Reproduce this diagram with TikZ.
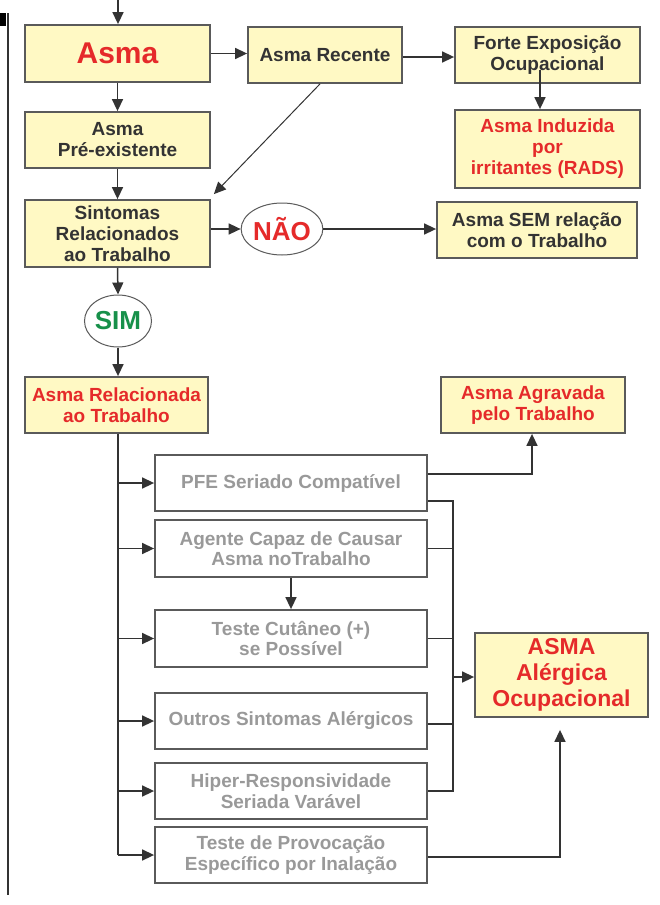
\documentclass[tikz,border=0pt]{standalone}
\usepackage{fontspec}
\setmainfont{Liberation Sans}
\usetikzlibrary{arrows.meta,shapes.geometric}
\definecolor{boxfill}{HTML}{FFF9C4}
\definecolor{redtxt}{HTML}{E52A2A}
\definecolor{greentxt}{HTML}{17904A}
\definecolor{darktxt}{HTML}{333333}
\definecolor{graytxt}{HTML}{999999}
\definecolor{edgec}{HTML}{5A5A5A}
\definecolor{linec}{HTML}{333333}
\begin{document}
\begin{tikzpicture}[x=1pt,y=-1pt,
  ybox/.style={draw=edgec, line width=1.8pt, fill=boxfill, align=center, inner sep=2pt,
    font=\bfseries\fontsize{19}{21}\selectfont, text=darktxt},
  gbox/.style={draw=edgec, line width=1.8pt, fill=white, align=center, inner sep=2pt,
    minimum width=272pt, minimum height=56pt, font=\bfseries\fontsize{19}{20.5}\selectfont, text=graytxt},
  oval/.style={ellipse, draw=edgec, line width=1pt, fill=white, inner sep=0pt,
    font=\bfseries\fontsize{26}{28}\selectfont},
  arr/.style={draw=linec, line width=1.5pt, -{Triangle[length=12pt,width=11pt]}},
  ln/.style={draw=linec, line width=1.5pt}]
\useasboundingbox (0,0) rectangle (660,905);
% left margin marks
\fill[black] (0,13) rectangle (6,26);
\draw[draw=linec, line width=1.3pt] (8,13) -- (8,895);
% top row
\node[ybox, minimum width=185pt, minimum height=57pt, text=redtxt,
  font=\bfseries\fontsize{30}{32}\selectfont] (asma) at (117.5,53.5) {Asma};
\node[ybox, minimum width=154pt, minimum height=56pt] (rec) at (325,55) {Asma Recente};
\node[ybox, minimum width=185pt, minimum height=56pt] (forte) at (547.5,55) {Forte Exposição\\Ocupacional};
\node[ybox, minimum width=185pt, minimum height=78pt, text=redtxt] (ind) at (547.5,149) {Asma Induzida\\por\\irritantes (RADS)};
\node[ybox, minimum width=185pt, minimum height=56pt] (pre) at (117.5,140) {Asma\\Pré-existente};
\node[ybox, minimum width=185pt, minimum height=67pt] (sint) at (117.5,233.5) {Sintomas\\Relacionados\\ao Trabalho};
\node[oval, minimum width=66pt, minimum height=52pt, text=redtxt] (nao) at (282,229) {NÃO};
\node[ybox, minimum width=200pt, minimum height=56pt] (sem) at (537,230) {Asma SEM relação\\com o Trabalho};
\node[oval, minimum width=67pt, minimum height=52pt, text=greentxt] (sim) at (118,321) {SIM};
\node[ybox, minimum width=183pt, minimum height=56pt, text=redtxt] (rel) at (116.5,405) {Asma Relacionada\\ao Trabalho};
\node[ybox, minimum width=184pt, minimum height=56pt, text=redtxt] (agr) at (533,405) {Asma Agravada\\pelo Trabalho};
% gray boxes
\node[gbox] (pfe) at (291,483) {PFE Seriado Compatível};
\node[gbox, minimum height=57pt] (age) at (291,548.5) {Agente Capaz de Causar\\Asma noTrabalho};
\node[gbox, minimum height=57pt] (cut) at (291,638.5) {Teste Cutâneo (+)\\se Possível};
\node[gbox] (out) at (291,721) {Outros Sintomas Alérgicos};
\node[gbox] (hip) at (291,791) {Hiper-Responsividade\\Seriada Varável};
\node[gbox] (pro) at (291,855) {Teste de Provocação\\Específico por Inalação};
\node[ybox, minimum width=173pt, minimum height=84pt, text=redtxt,
  font=\bfseries\fontsize{23}{26}\selectfont] (alg) at (561.5,675) {ASMA\\Alérgica\\Ocupacional};
% connectors top
\coordinate (top) at (118,0);
\coordinate (tk) at (118,0);
\coordinate (bx) at (453,0);
\draw[arr] (top) -- (asma.north -| top);
\draw[arr] (asma.east) -- (asma.east -| rec.west);
\draw[arr] ([yshift=-2pt]rec.east) -- ([yshift=-2pt]rec.east -| forte.west);
\draw[arr] ([xshift=-7.5pt,yshift=14pt]forte.south) -- ([xshift=-7.5pt]ind.north);
\draw[arr] (asma.south) -- (pre.north);
\draw[arr] (pre.south) -- (sint.north);
\draw[draw=linec, line width=1pt, -{Triangle[length=12pt,width=11pt]}] ([xshift=-5pt]rec.south) -- ([shift={(3,-5)}]sint.north east);
\draw[arr] (sint.east |- nao.west) -- (nao.west);
\draw[arr] (nao.east) -- (nao.east -| sem.west);
\draw[arr] (sint.south) -- (sim.north);
\draw[arr] (sim.south) -- (sim.south |- rel.north);
% trunk
\draw[ln] (rel.south -| tk) -- (pro.west -| tk);
\foreach \n in {pfe,age,cut,out,hip,pro}
  \draw[arr] (\n.west -| tk) -- (\n.west);
\draw[arr] (age.south) -- (cut.north);
% right side
\draw[arr] ([yshift=9pt]pfe.east) -| ([xshift=-1pt]agr.south);
\draw[ln] ([yshift=-18pt]pfe.east) -| (hip.east -| bx) -- (hip.east);
\draw[ln] (age.east) -- (age.east -| bx);
\draw[ln] (cut.east) -- (cut.east -| bx);
\draw[ln] ([yshift=-3pt]out.east) -- ([yshift=-3pt]out.east -| bx);
\draw[arr] ([yshift=-2pt]alg.west -| bx) -- ([yshift=-2pt]alg.west);
\draw[arr, shorten >=12pt] ([yshift=-2pt]pro.east) -| ([xshift=-1.5pt]alg.south);
\end{tikzpicture}
\end{document}
